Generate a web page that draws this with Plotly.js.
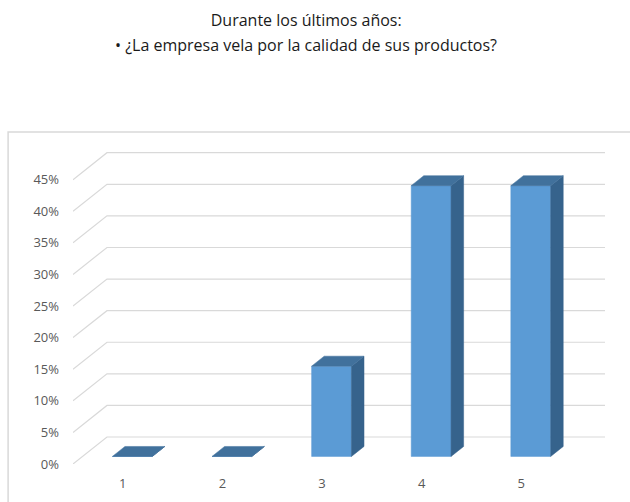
<!DOCTYPE html>
<html>
<head>
<meta charset="utf-8">
<script src="https://cdn.plot.ly/plotly-3.0.1.min.js"></script>
<style>html,body{margin:0;padding:0;background:#fff;}#chart{width:630px;height:502px;}</style>
</head>
<body>
<div id="chart"></div>
<script>
// ---- data ----
const categories = ['1', '2', '3', '4', '5'];
const values = [0, 0, 14.29, 42.86, 42.86];          // percent
const tickValues = [0, 5, 10, 15, 20, 25, 30, 35, 40, 45];
const tickLabels = ['0%', '5%', '10%', '15%', '20%', '25%', '30%', '35%', '40%', '45%'];
const titleLine1 = 'Durante los últimos años:';
const titleLine2 = '• ¿La empresa vela por la calidad de sus productos?';

// ---- 3D projection styling (depth offset in axis units) ----
const DX = 0.341, DY = 4.27;
const X0 = 0.5, X1 = 5.5;
const D1 = 0.28, D2 = 0.65, HW = 0.2;
function proj(x, y, d) { return [x + d * DX, y + d * DY]; }

const traces = [];
// back wall gridlines with diagonal depth lines
const gx = [], gy = [];
tickValues.forEach(v => {
  [proj(X0, v, 0), proj(X0, v, 1), proj(X1, v, 1)].forEach(p => { gx.push(p[0]); gy.push(p[1]); });
  gx.push(null); gy.push(null);
});
traces.push({x: gx, y: gy, mode: 'lines', line: {color: '#d9d9d9', width: 1.2},
  hoverinfo: 'skip', showlegend: false, cliponaxis: false});

function poly(pts, color) {
  const xs = pts.map(p => p[0]), ys = pts.map(p => p[1]);
  xs.push(xs[0]); ys.push(ys[0]);
  return {x: xs, y: ys, mode: 'lines', fill: 'toself', fillcolor: color,
    line: {color: color, width: 0.5}, hoverinfo: 'skip', showlegend: false, cliponaxis: false};
}
values.forEach((v, i) => {
  const c = i + 1;
  traces.push(poly([proj(c - HW, 0, D1), proj(c + HW, 0, D1), proj(c + HW, v, D1), proj(c - HW, v, D1)], '#5b9bd5'));
  traces.push(poly([proj(c + HW, 0, D1), proj(c + HW, 0, D2), proj(c + HW, v, D2), proj(c + HW, v, D1)], '#36638c'));
  traces.push(poly([proj(c - HW, v, D1), proj(c + HW, v, D1), proj(c + HW, v, D2), proj(c - HW, v, D2)], '#41719c'));
});

const font = '"Open Sans", "Liberation Sans", Arial, sans-serif';
const layout = {
  width: 630, height: 502,
  margin: {l: 73, r: 25, t: 150, b: 38},
  paper_bgcolor: '#fff', plot_bgcolor: 'rgba(0,0,0,0)',
  showlegend: false,
  title: {text: titleLine1, font: {family: font, size: 16, color: '#1a1a1a'},
    x: 0.486, xanchor: 'center', y: 0.96, yanchor: 'middle', yref: 'container'},
  annotations: [{text: titleLine2, xref: 'paper', yref: 'paper', x: 0.438, y: 1.334,
    xanchor: 'center', yanchor: 'middle', showarrow: false,
    font: {family: font, size: 16, color: '#1a1a1a'}}],
  xaxis: {range: [X0, X1 + DX], tickvals: [1, 2, 3, 4, 5], ticktext: categories,
    showgrid: false, zeroline: false, showline: false, ticks: '',
    tickfont: {family: font, size: 13, color: '#595959'}, ticklabelstandoff: 10, fixedrange: true},
  yaxis: {range: [0, 49.7], tickvals: tickValues, ticktext: tickLabels,
    showgrid: false, zeroline: false, showline: false, ticks: '',
    tickfont: {family: font, size: 13, color: '#595959'}, ticklabelstandoff: 13, fixedrange: true},
  shapes: [{type: 'rect', xref: 'paper', yref: 'paper', x0: -0.122, x1: 1.2, y0: -0.3, y1: 1.057,
    line: {color: '#d9d9d9', width: 1.5}, fillcolor: 'rgba(0,0,0,0)', layer: 'below'}]
};
Plotly.newPlot('chart', traces, layout, {displayModeBar: false, staticPlot: true});
</script>
</body>
</html>
